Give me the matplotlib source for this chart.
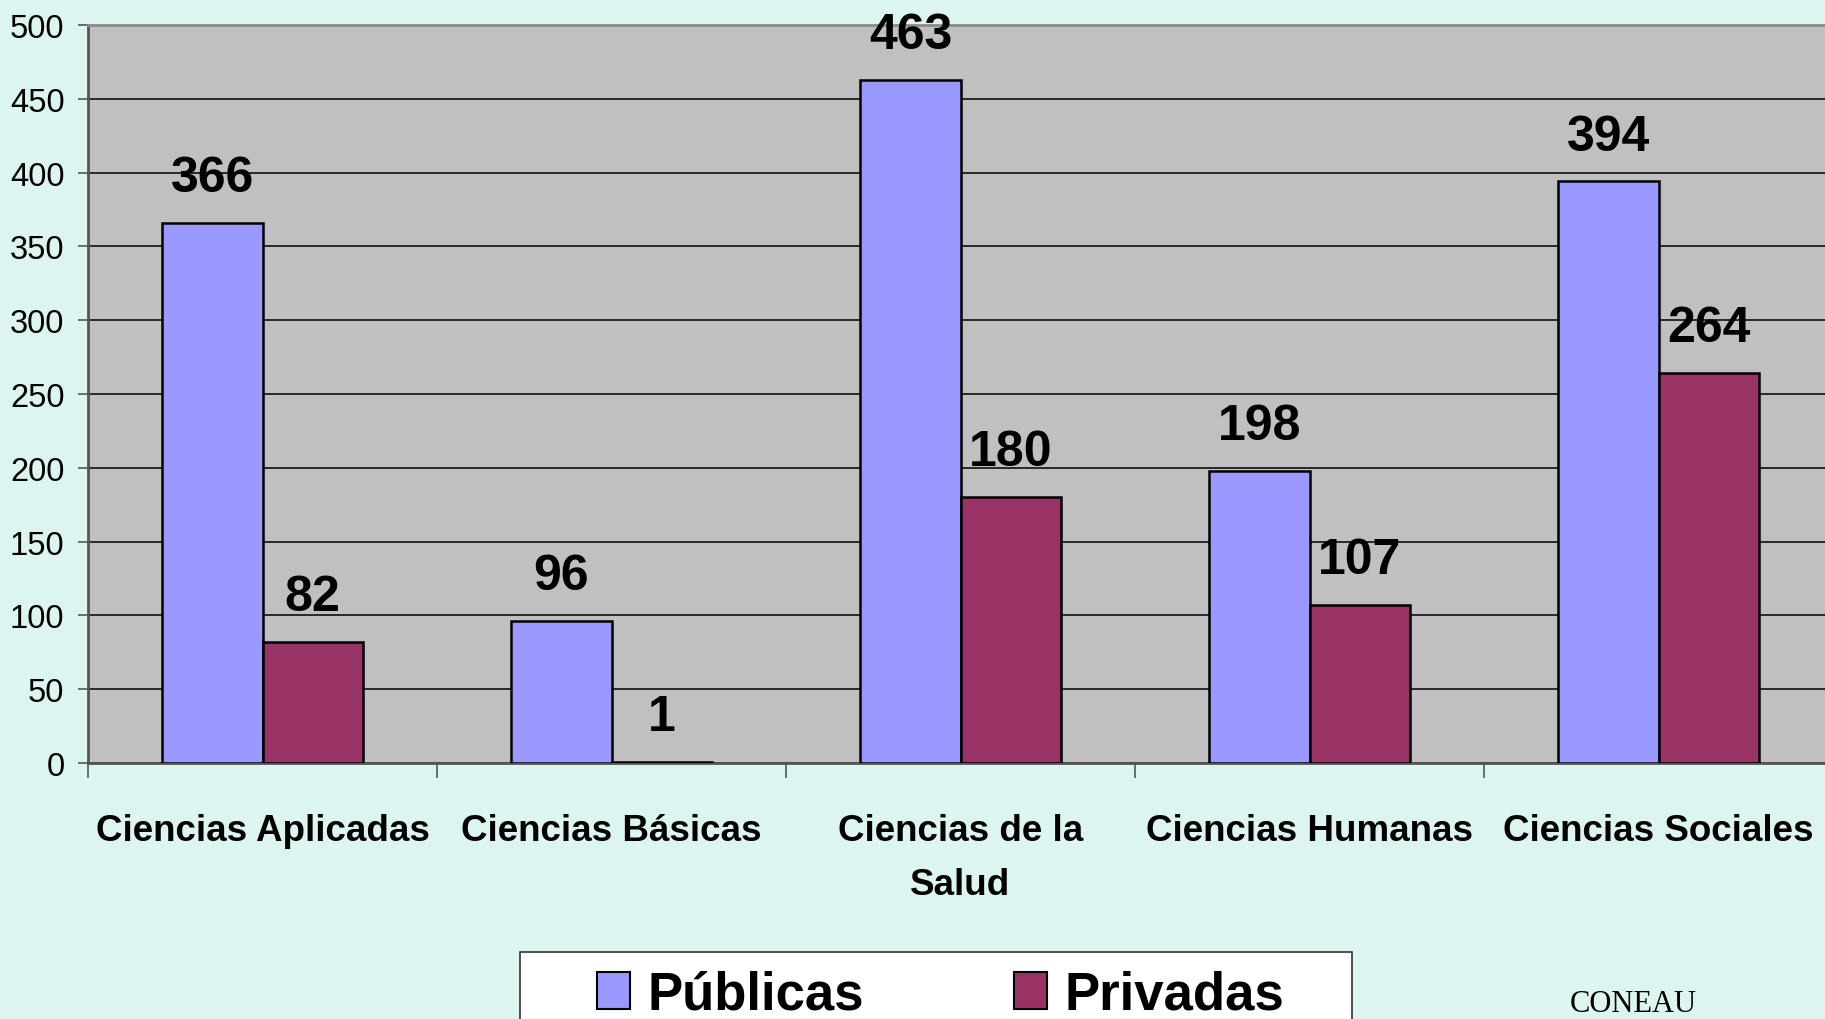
import numpy as np
import matplotlib
matplotlib.use('Agg')
from matplotlib import pyplot as plt
from matplotlib.patches import Patch, Rectangle

categories = ['Ciencias Aplicadas', 'Ciencias Básicas', 'Ciencias de la\nSalud',
              'Ciencias Humanas', 'Ciencias Sociales']
publicas = [366, 96, 463, 198, 394]
privadas = [82, 1, 180, 107, 264]
series_names = ['Públicas', 'Privadas']

plt.rcParams['font.family'] = ['Liberation Sans', 'DejaVu Sans']

bg = '#DDF5F0'
fig = plt.figure(figsize=(18.25, 10.2), dpi=100, facecolor=bg)
ax = fig.add_axes([88/1825, 1 - 764/1020, 1745/1825, 738/1020])
ax.set_facecolor('#C0C0C0')

x = np.arange(len(categories))
w = 0.287
b1 = ax.bar(x - w/2, publicas, w, color='#9999FF', edgecolor='black', linewidth=1.8, zorder=3)
b2 = ax.bar(x + w/2, privadas, w, color='#993366', edgecolor='black', linewidth=1.8, zorder=3)

for bars, vals in [(b1, publicas), (b2, privadas)]:
    for bar, v in zip(bars, vals):
        ax.annotate(str(v), (bar.get_x() + bar.get_width()/2, v),
                    xytext=(0, 23), textcoords='offset points',
                    ha='center', va='baseline', fontsize=36, fontweight='bold')

ax.set_xlim(-0.5, 4.5)
ax.set_ylim(0, 500)
ax.set_yticks(np.arange(0, 501, 50))
ax.yaxis.grid(True, color='black', linewidth=1.1, zorder=1)
ax.set_axisbelow(True)

ax.set_xticks(np.arange(-0.5, 5, 1))
ax.set_xticklabels([])
ax.set_xticks(x, minor=True)
ax.set_xticklabels(categories, minor=True, fontsize=26.5, fontweight='bold', linespacing=1.7)
ax.tick_params(axis='x', which='major', length=11, width=1.2, color='#555555', direction='out')
ax.tick_params(axis='x', which='minor', length=0, pad=36)
ax.tick_params(axis='y', length=7, width=1.2, color='#555555', labelsize=23.5, pad=10)

for s in ['left', 'bottom']:
    ax.spines[s].set_color('#555555')
    ax.spines[s].set_linewidth(2)
ax.spines['top'].set_color('#8A8A8A')
ax.spines['top'].set_linewidth(2)
ax.spines['right'].set_visible(False)

# legend box (wider than its content, clipped at the bottom like the original)
fig.patches.append(Rectangle((520/1825, -0.05), 832/1825, 0.05 + 1 - 953/1020,
                             transform=fig.transFigure, facecolor='white',
                             edgecolor='#333333', linewidth=1.2, zorder=1))
handles = [Patch(facecolor='#9999FF', edgecolor='black', linewidth=1.5),
           Patch(facecolor='#993366', edgecolor='black', linewidth=1.5)]
leg = fig.legend(handles, series_names, loc='center left',
                 bbox_to_anchor=(597/1825, 1 - 996/1020), ncol=2,
                 prop={'size': 38, 'weight': 'bold'}, frameon=False,
                 handlelength=0.63, handleheight=0.7, handletextpad=0.32,
                 columnspacing=2.85, borderpad=0, borderaxespad=0)
leg.set_zorder(2)

fig.text(1570/1825, 1/1020, 'CONEAU', family='Liberation Serif', fontsize=22,
         ha='left', va='bottom')

fig.savefig('out.png', dpi=100, facecolor=bg)
